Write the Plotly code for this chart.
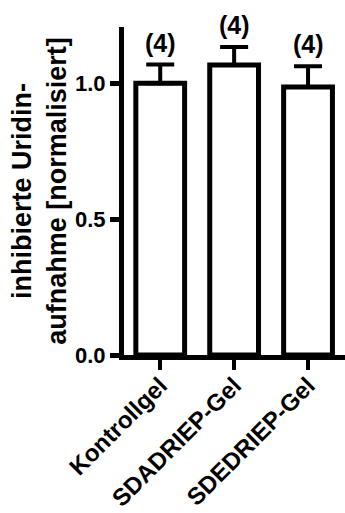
import plotly.graph_objects as go

categories = ["Kontrollgel", "SDADRIEP-Gel", "SDEDRIEP-Gel"]
values = [1.0, 1.067, 0.986]
errors = [0.069, 0.066, 0.077]
n_labels = ["(4)", "(4)", "(4)"]
y_ticks = [0.0, 0.5, 1.0]
y_tick_labels = ["0.0", "0.5", "1.0"]

font_family = "Liberation Sans, Arial, sans-serif"

fig = go.Figure()
fig.add_trace(go.Bar(
    x=categories, y=values, width=0.66,
    marker=dict(color="white", line=dict(color="black", width=5)),
    error_y=dict(type="data", symmetric=False, array=errors,
                 arrayminus=[0] * len(errors), color="black",
                 thickness=4, width=14),
))

for c, v, e, t in zip(categories, values, errors, n_labels):
    fig.add_annotation(x=c, y=v + e, text=t, showarrow=False,
                       yanchor="bottom", yshift=6,
                       font=dict(family=font_family, size=25, color="black", weight="bold"))

fig.update_layout(
    width=345, height=513,
    margin=dict(l=124, r=0, t=27, b=158),
    plot_bgcolor="white", paper_bgcolor="white",
    showlegend=False,
    font=dict(family=font_family, color="black"),
    xaxis=dict(
        range=[-0.49, 2.5], showline=True, linecolor="black", linewidth=5,
        ticks="outside", ticklen=10, tickwidth=4, tickcolor="black",
        tickangle=-45, showgrid=False, zeroline=False, automargin=False,
        ticklabelstandoff=-8,
        tickfont=dict(family=font_family, size=24, color="black", weight="bold"),
    ),
    yaxis=dict(
        range=[0, 1.207], showline=True, linecolor="black", linewidth=5,
        ticks="outside", ticklen=9, tickwidth=4.5, tickcolor="black",
        tickvals=y_ticks, ticktext=y_tick_labels, showgrid=False, zeroline=False,
        automargin=False,
        tickfont=dict(family=font_family, size=22, color="black", weight="bold"),
        title=dict(text="inhibierte Uridin-<br>aufnahme [normalisiert]",
                   font=dict(family=font_family, size=27, color="black", weight="bold"),
                   standoff=2),
    ),
)

fig.write_html(
    "out.html",
    config={"displayModeBar": False},
    post_script="document.body.style.margin='0';document.body.style.padding='0';",
)
